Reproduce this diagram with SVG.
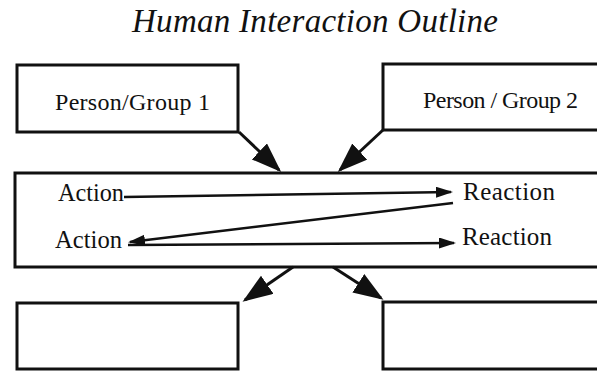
<svg xmlns="http://www.w3.org/2000/svg" width="597" height="372" viewBox="0 0 597 372">
<style>
.box{fill:#fff;stroke:#111;stroke-width:3}
.lbl{font-family:"Liberation Serif","Times New Roman",serif;fill:#111}
.con{stroke:#111;stroke-width:3;fill:none}
.thin{stroke:#111;stroke-width:2.5;fill:none}
</style>
<defs>
<marker id="big" markerUnits="userSpaceOnUse" markerWidth="32" markerHeight="24" refX="27" refY="11" orient="auto">
<path d="M0,0 L30,11 L0,22 z" fill="#111"/>
</marker>
<marker id="small" markerUnits="userSpaceOnUse" markerWidth="20" markerHeight="12" refX="15" refY="5.5" orient="auto">
<path d="M0,0 L17,5.5 L0,11 z" fill="#111"/>
</marker>
</defs>
<rect width="597" height="372" fill="#fff"/>
<text class="lbl" x="132" y="32" font-size="33" font-style="italic" textLength="366" lengthAdjust="spacing">Human Interaction Outline</text>
<g id="person1"><rect class="box" x="17" y="65" width="221" height="67"/><text class="lbl" x="55" y="110" font-size="24" textLength="155" lengthAdjust="spacing">Person/Group 1</text></g>
<g id="person2"><rect class="box" x="383" y="64" width="220" height="66"/><text class="lbl" x="423" y="108" font-size="24" textLength="155" lengthAdjust="spacing">Person / Group 2</text></g>
<g id="interaction"><rect class="box" x="15" y="173" width="590" height="94"/>
<text class="lbl" x="58" y="201" font-size="25" textLength="66" lengthAdjust="spacingAndGlyphs">Action</text>
<text class="lbl" x="463" y="200" font-size="25" textLength="92" lengthAdjust="spacing">Reaction</text>
<text class="lbl" x="55" y="248" font-size="25" textLength="67" lengthAdjust="spacingAndGlyphs">Action</text>
<text class="lbl" x="462" y="245" font-size="25" textLength="90" lengthAdjust="spacing">Reaction</text>
</g>
<g id="outcome1"><rect class="box" x="17" y="303" width="221" height="66"/></g>
<g id="outcome2"><rect class="box" x="383" y="302" width="220" height="67"/></g>
<g id="connectors">
<line class="con" x1="239" y1="132" x2="279" y2="170" marker-end="url(#big)"/>
<line class="con" x1="383" y1="130" x2="340" y2="170" marker-end="url(#big)"/>
<line class="con" x1="293" y1="267" x2="245" y2="300" marker-end="url(#big)"/>
<line class="con" x1="333" y1="267" x2="381" y2="298" marker-end="url(#big)"/>
<line class="thin" x1="124" y1="197" x2="451" y2="192" marker-end="url(#small)"/>
<line class="thin" x1="453" y1="203" x2="130" y2="242" marker-end="url(#small)"/>
<line class="thin" x1="128" y1="245" x2="454" y2="243" marker-end="url(#small)"/>
</g>
</svg>
